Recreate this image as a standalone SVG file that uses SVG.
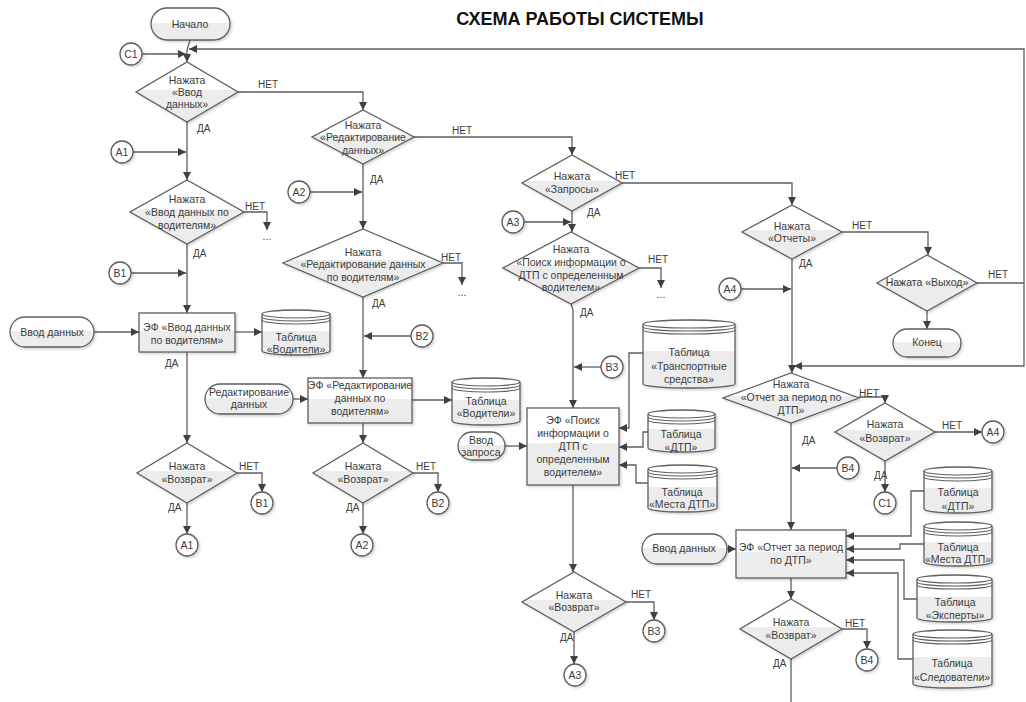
<svg xmlns="http://www.w3.org/2000/svg" width="1026" height="702" viewBox="0 0 1026 702">
<defs>
<linearGradient id="g" x1="0" y1="0" x2="0" y2="1">
<stop offset="0" stop-color="#ffffff"/><stop offset="0.46" stop-color="#ffffff"/><stop offset="0.46" stop-color="#ececec"/><stop offset="1" stop-color="#ececec"/>
</linearGradient>
<filter id="sh" x="-10%" y="-10%" width="130%" height="130%"><feDropShadow dx="1.5" dy="1.5" stdDeviation="1" flood-color="#000" flood-opacity="0.18"/></filter>
<marker id="a" viewBox="0 0 10 10" refX="10" refY="5" markerWidth="8" markerHeight="8" markerUnits="userSpaceOnUse" orient="auto"><path d="M0,0 L10,5 L0,10 z" fill="#404040"/></marker>
<style>
.s{fill:url(#g);stroke:#5e5e5e;stroke-width:1.3;filter:url(#sh)}
.o{fill:none;stroke:#5e5e5e;stroke-width:1.1}
.k{fill:#fff;stroke:#5e5e5e;stroke-width:1.3;filter:url(#sh)}
.c{fill:none;stroke:#5e5e5e;stroke-width:1.3}
.ar{marker-end:url(#a)}
text{font-family:"Liberation Sans",Arial,sans-serif;font-size:10px;fill:#3c3c3c}
.t{text-anchor:middle;font-size:10.5px}
.h{font-size:18px;font-weight:bold;fill:#111;text-anchor:middle}
</style>
</defs>
<rect width="1026" height="702" fill="#fff"/>
<text class="h" x="580" y="25">СХЕМА РАБОТЫ СИСТЕМЫ</text>

<g id="connectors">
<path class="c ar" d="M190,40 L187,50 L187,62"/>
<path class="c" d="M977,283 L1024,283"/>
<path class="c ar" d="M1024,283 L1024,49 L189,49"/>
<path class="c ar" d="M1024,283 L1024,366 L794,366"/>
<path class="c ar" d="M142,54 L186,54"/>
<path class="c ar" d="M238,92 L363,92 L363,110"/>
<path class="c ar" d="M187,122 L187,180"/>
<path class="c ar" d="M133,152 L186,152"/>
<path class="c ar" d="M244,212 L267,212 L267,230"/>
<path class="c ar" d="M187,244 L187,313"/>
<path class="c ar" d="M131,273 L186,273"/>
<path class="c ar" d="M94,332 L139,332"/>
<path class="c ar" d="M235,332 L262,332"/>
<path class="c ar" d="M187,352 L187,443"/>
<path class="c ar" d="M237,473 L262,473 L262,492"/>
<path class="c ar" d="M187,503 L187,534"/>

<path class="c ar" d="M414,137 L572,137 L572,155"/>
<path class="c ar" d="M363,164 L363,229"/>
<path class="c ar" d="M310,192 L362,192"/>
<path class="c ar" d="M443,263 L462,263 L462,285"/>
<path class="c ar" d="M363,297 L363,378"/>
<path class="c ar" d="M411,336 L364,336"/>
<path class="c ar" d="M293,399 L308,399"/>
<path class="c ar" d="M412,400 L452,400"/>
<path class="c ar" d="M363,423 L363,443"/>
<path class="c ar" d="M413,473 L438,473 L438,492"/>
<path class="c ar" d="M363,503 L363,534"/>

<path class="c ar" d="M622,183 L792,183 L792,205"/>
<path class="c ar" d="M572,211 L572,232"/>
<path class="c ar" d="M524,222 L571,222"/>
<path class="c ar" d="M639,268 L661,268 L661,288"/>
<path class="c ar" d="M571,304 L573,310 L573,408"/>
<path class="c ar" d="M601,367 L574,367"/>
<path class="c ar" d="M505,446 L527,446"/>
<path class="c ar" d="M643,353 L629,353 L629,428 L619,428"/>
<path class="c ar" d="M648,432 L643,432 L643,447 L619,447"/>
<path class="c ar" d="M648,483 L636,483 L636,465 L619,465"/>
<path class="c ar" d="M573,485 L573,572"/>
<path class="c ar" d="M625,602 L654,602 L654,620"/>
<path class="c ar" d="M574,632 L574,664"/>

<path class="c ar" d="M842,232 L928,232 L928,255"/>
<path class="c ar" d="M927,311 L927,329"/>
<path class="c ar" d="M792,259 L792,373"/>
<path class="c ar" d="M741,289 L791,289"/>
<path class="c ar" d="M859,397 L885,397 L885,403"/>
<path class="c ar" d="M935,432 L982,432"/>
<path class="c ar" d="M885,461 L885,492"/>
<path class="c ar" d="M791,423 L791,530"/>
<path class="c ar" d="M837,468 L792,468"/>
<path class="c ar" d="M727,549 L736,549"/>
<path class="c ar" d="M791,578 L791,599"/>
<path class="c ar" d="M842,629 L867,629 L867,649"/>
<path class="c" d="M791,659 L791,702"/>
<path class="c ar" d="M924,491 L911,491 L911,536 L846,536"/>
<path class="c ar" d="M924,544 L900,544 L900,549 L846,549"/>
<path class="c ar" d="M917,599 L904,599 L904,560 L846,560"/>
<path class="c ar" d="M913,659 L898,659 L898,573 L846,573"/>
</g>

<g id="labels">
<text x="258" y="88">НЕТ</text><text x="197" y="132">ДА</text>
<text x="245" y="210">НЕТ</text><text x="193" y="257">ДА</text>
<text x="267" y="240" class="t">...</text>
<text x="165" y="367">ДА</text>
<text x="239" y="470">НЕТ</text><text x="168" y="511">ДА</text>
<text x="452" y="134">НЕТ</text><text x="370" y="183">ДА</text>
<text x="441" y="261">НЕТ</text><text x="372" y="307">ДА</text>
<text x="462" y="296" class="t">...</text>
<text x="416" y="470">НЕТ</text><text x="346" y="511">ДА</text>
<text x="615" y="179">НЕТ</text><text x="587" y="216">ДА</text>
<text x="648" y="263">НЕТ</text><text x="580" y="316">ДА</text>
<text x="661" y="298" class="t">...</text>
<text x="631" y="598">НЕТ</text><text x="560" y="641">ДА</text>
<text x="852" y="229">НЕТ</text><text x="799" y="267">ДА</text>
<text x="988" y="278">НЕТ</text>
<text x="859" y="397">НЕТ</text><text x="802" y="444">ДА</text>
<text x="942" y="429">НЕТ</text><text x="874" y="479">ДА</text>
<text x="845" y="627">НЕТ</text><text x="773" y="667">ДА</text>
</g>

<g id="start"><rect class="s" x="151" y="8" width="79" height="32" rx="16"/><text class="t" x="190" y="28">Начало</text></g>
<g id="c1a"><circle class="k" cx="131" cy="54" r="11"/><text class="t" x="131" y="57.5">C1</text></g>
<g id="d1"><polygon class="s" points="187,62 238,92 187,122 136,92"/><text class="t" x="187" y="84">Нажата</text><text class="t" x="187" y="96">«Ввод</text><text class="t" x="187" y="108">данных»</text></g>
<g id="a1a"><circle class="k" cx="122" cy="152" r="11"/><text class="t" x="122" y="155.5">A1</text></g>
<g id="d3"><polygon class="s" points="187,180 244,212 187,244 130,212"/><text class="t" x="187" y="203">Нажата</text><text class="t" x="187" y="216">«Ввод данных по</text><text class="t" x="187" y="229">водителям»</text></g>
<g id="b1a"><circle class="k" cx="120" cy="273" r="11"/><text class="t" x="120" y="276.5">B1</text></g>
<g id="in1"><rect class="s" x="10" y="317" width="84" height="30" rx="15"/><text class="t" x="52" y="336">Ввод данных</text></g>
<g id="box1"><rect class="s" x="139" y="313" width="96" height="39"/><text class="t" x="187" y="331">ЭФ «Ввод данных</text><text class="t" x="187" y="344">по водителям»</text></g>
<g id="cyl1"><path class="s" d="M262,314 A34,4 0 0 1 330,314 V351 A34,4 0 0 1 262,351 Z"/><path class="o" d="M262,314 A34,4 0 0 0 330,314 M262,317 A34,4 0 0 0 330,317 M262,320 A34,4 0 0 0 330,320"/><text class="t" x="296" y="341">Таблица</text><text class="t" x="296" y="353">«Водители»</text></g>
<g id="d5"><polygon class="s" points="187,443 237,473 187,503 137,473"/><text class="t" x="187" y="470">Нажата</text><text class="t" x="187" y="483">«Возврат»</text></g>
<g id="b1b"><circle class="k" cx="262" cy="503" r="11"/><text class="t" x="262" y="506.5">B1</text></g>
<g id="a1b"><circle class="k" cx="187" cy="545" r="11"/><text class="t" x="187" y="548.5">A1</text></g>

<g id="d2"><polygon class="s" points="363,110 414,137 363,164 312,137"/><text class="t" x="363" y="129">Нажата</text><text class="t" x="363" y="141">«Редактирование</text><text class="t" x="363" y="154">данных»</text></g>
<g id="a2a"><circle class="k" cx="299" cy="192" r="11"/><text class="t" x="299" y="195.5">A2</text></g>
<g id="d4"><polygon class="s" points="363,229 443,263 363,297 283,263"/><text class="t" x="363" y="256">Нажата</text><text class="t" x="363" y="268">«Редактирование данных</text><text class="t" x="363" y="281">по водителям»</text></g>
<g id="b2a"><circle class="k" cx="422" cy="336" r="11"/><text class="t" x="422" y="339.5">B2</text></g>
<g id="in2"><rect class="s" x="205" y="384" width="88" height="30" rx="15"/><text class="t" x="249" y="396">Редактирование</text><text class="t" x="249" y="408">данных</text></g>
<g id="box2"><rect class="s" x="308" y="378" width="104" height="45"/><text class="t" x="360" y="389">ЭФ «Редактирование</text><text class="t" x="360" y="402">данных по</text><text class="t" x="360" y="415">водителям»</text></g>
<g id="cyl2"><path class="s" d="M452,382 A34,4 0 0 1 520,382 V421 A34,4 0 0 1 452,421 Z"/><path class="o" d="M452,382 A34,4 0 0 0 520,382 M452,385 A34,4 0 0 0 520,385 M452,388 A34,4 0 0 0 520,388"/><text class="t" x="486" y="405">Таблица</text><text class="t" x="486" y="417">«Водители»</text></g>
<g id="d6"><polygon class="s" points="363,443 413,473 363,503 313,473"/><text class="t" x="363" y="470">Нажата</text><text class="t" x="363" y="483">«Возврат»</text></g>
<g id="b2b"><circle class="k" cx="438" cy="503" r="11"/><text class="t" x="438" y="506.5">B2</text></g>
<g id="a2b"><circle class="k" cx="362" cy="545" r="11"/><text class="t" x="362" y="548.5">A2</text></g>

<g id="d7"><polygon class="s" points="572,155 622,183 572,211 522,183"/><text class="t" x="572" y="180">Нажата</text><text class="t" x="572" y="193">«Запросы»</text></g>
<g id="a3a"><circle class="k" cx="513" cy="222" r="11"/><text class="t" x="513" y="225.5">A3</text></g>
<g id="d8"><polygon class="s" points="571,232 639,268 571,304 503,268"/><text class="t" x="571" y="253">Нажата</text><text class="t" x="571" y="266">«Поиск информации о</text><text class="t" x="571" y="279">ДТП с определенным</text><text class="t" x="571" y="291">водителем»</text></g>
<g id="b3a"><circle class="k" cx="612" cy="367" r="11"/><text class="t" x="612" y="370.5">B3</text></g>
<g id="cylT"><path class="s" d="M643,324 A46,4 0 0 1 735,324 V384 A46,4 0 0 1 643,384 Z"/><path class="o" d="M643,324 A46,4 0 0 0 735,324 M643,327 A46,4 0 0 0 735,327 M643,330 A46,4 0 0 0 735,330"/><text class="t" x="689" y="356">Таблица</text><text class="t" x="689" y="370">«Транспортные</text><text class="t" x="689" y="383">средства»</text></g>
<g id="in3"><rect class="s" x="458" y="432" width="47" height="28" rx="14"/><text class="t" x="481" y="444">Ввод</text><text class="t" x="481" y="456">запроса</text></g>
<g id="box3"><rect class="s" x="527" y="408" width="92" height="77"/><text class="t" x="573" y="424">ЭФ «Поиск</text><text class="t" x="573" y="437">информации о</text><text class="t" x="573" y="450">ДТП с</text><text class="t" x="573" y="463">определенным</text><text class="t" x="573" y="476">водителем»</text></g>
<g id="cylD3"><path class="s" d="M648,414 A33.5,4 0 0 1 715,414 V448 A33.5,4 0 0 1 648,448 Z"/><path class="o" d="M648,414 A33.5,4 0 0 0 715,414 M648,417 A33.5,4 0 0 0 715,417 M648,420 A33.5,4 0 0 0 715,420"/><text class="t" x="681" y="438">Таблица</text><text class="t" x="681" y="451">«ДТП»</text></g>
<g id="cylM3"><path class="s" d="M648,469 A34.5,4 0 0 1 717,469 V508 A34.5,4 0 0 1 648,508 Z"/><path class="o" d="M648,469 A34.5,4 0 0 0 717,469 M648,472 A34.5,4 0 0 0 717,472 M648,475 A34.5,4 0 0 0 717,475"/><text class="t" x="682" y="496">Таблица</text><text class="t" x="682" y="508">«Места ДТП»</text></g>
<g id="d9"><polygon class="s" points="574,572 626,602 574,632 522,602"/><text class="t" x="574" y="599">Нажата</text><text class="t" x="574" y="611">«Возврат»</text></g>
<g id="b3b"><circle class="k" cx="654" cy="631" r="11"/><text class="t" x="654" y="634.5">B3</text></g>
<g id="a3b"><circle class="k" cx="575" cy="675" r="11"/><text class="t" x="575" y="678.5">A3</text></g>

<g id="d10"><polygon class="s" points="792,205 842,232 792,259 742,232"/><text class="t" x="792" y="230">Нажата</text><text class="t" x="792" y="242">«Отчеты»</text></g>
<g id="d11"><polygon class="s" points="927,255 977,283 927,311 877,283"/><text class="t" x="927" y="286">Нажата «Выход»</text></g>
<g id="end"><rect class="s" x="893" y="329" width="68" height="28" rx="14"/><text class="t" x="927" y="346">Конец</text></g>
<g id="a4a"><circle class="k" cx="730" cy="289" r="11"/><text class="t" x="730" y="292.5">A4</text></g>
<g id="d12"><polygon class="s" points="791,373 859,398 791,423 723,398"/><text class="t" x="791" y="388">Нажата</text><text class="t" x="791" y="401">«Отчет за период по</text><text class="t" x="791" y="414">ДТП»</text></g>
<g id="d13"><polygon class="s" points="885,403 935,432 885,461 835,432"/><text class="t" x="885" y="428">Нажата</text><text class="t" x="885" y="442">«Возврат»</text></g>
<g id="a4b"><circle class="k" cx="993" cy="432" r="11"/><text class="t" x="993" y="435.5">A4</text></g>
<g id="c1b"><circle class="k" cx="885" cy="503" r="11"/><text class="t" x="885" y="506.5">C1</text></g>
<g id="b4a"><circle class="k" cx="848" cy="468" r="11"/><text class="t" x="848" y="471.5">B4</text></g>
<g id="in4"><rect class="s" x="642" y="534" width="85" height="30" rx="15"/><text class="t" x="684" y="552">Ввод данных</text></g>
<g id="box4"><rect class="s" x="736" y="530" width="110" height="48"/><text class="t" x="791" y="551">ЭФ «Отчет за период</text><text class="t" x="791" y="564">по ДТП»</text></g>
<g id="d14"><polygon class="s" points="791,599 842,629 791,659 740,629"/><text class="t" x="791" y="626">Нажата</text><text class="t" x="791" y="639">«Возврат»</text></g>
<g id="b4b"><circle class="k" cx="867" cy="660" r="11"/><text class="t" x="867" y="663.5">B4</text></g>
<g id="cylD4"><path class="s" d="M924,471 A34,4 0 0 1 992,471 V509 A34,4 0 0 1 924,509 Z"/><path class="o" d="M924,471 A34,4 0 0 0 992,471 M924,474 A34,4 0 0 0 992,474 M924,477 A34,4 0 0 0 992,477"/><text class="t" x="958" y="496">Таблица</text><text class="t" x="958" y="510">«ДТП»</text></g>
<g id="cylM4"><path class="s" d="M924,526 A34,4 0 0 1 992,526 V562 A34,4 0 0 1 924,562 Z"/><path class="o" d="M924,526 A34,4 0 0 0 992,526 M924,529 A34,4 0 0 0 992,529 M924,532 A34,4 0 0 0 992,532"/><text class="t" x="958" y="551">Таблица</text><text class="t" x="958" y="563">«Места ДТП»</text></g>
<g id="cylE"><path class="s" d="M917,579 A37.5,4 0 0 1 992,579 V618 A37.5,4 0 0 1 917,618 Z"/><path class="o" d="M917,579 A37.5,4 0 0 0 992,579 M917,582 A37.5,4 0 0 0 992,582 M917,585 A37.5,4 0 0 0 992,585"/><text class="t" x="955" y="606">Таблица</text><text class="t" x="955" y="619">«Эксперты»</text></g>
<g id="cylS"><path class="s" d="M913,634 A39.5,4 0 0 1 992,634 V684 A39.5,4 0 0 1 913,684 Z"/><path class="o" d="M913,634 A39.5,4 0 0 0 992,634 M913,637 A39.5,4 0 0 0 992,637 M913,640 A39.5,4 0 0 0 992,640"/><text class="t" x="952" y="667">Таблица</text><text class="t" x="952" y="681">«Следователи»</text></g>
</svg>
